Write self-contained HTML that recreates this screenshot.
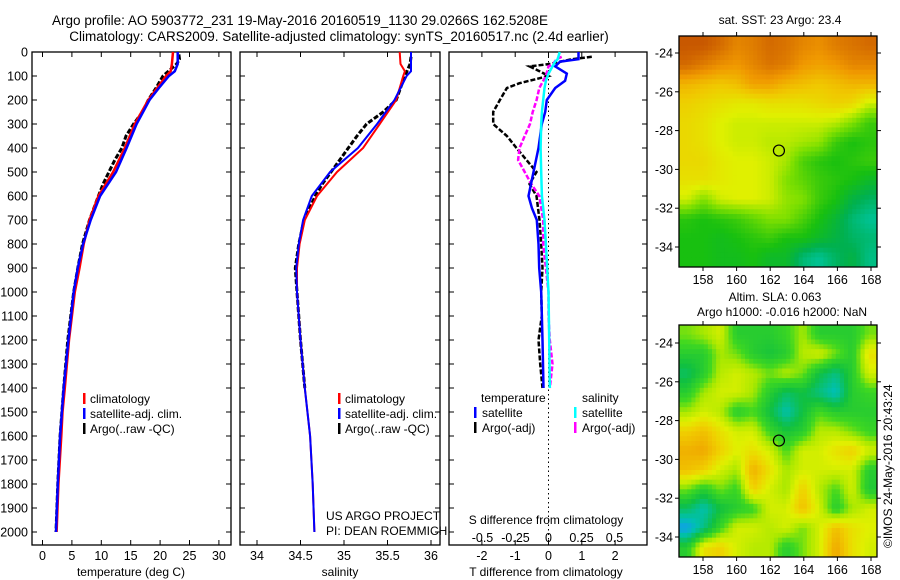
<!DOCTYPE html>
<html><head><meta charset="utf-8"><style>
html,body{margin:0;padding:0;background:#fff;}
svg{display:block;font-family:"Liberation Sans",sans-serif;}
</style></head><body>
<svg id="fig" width="900" height="580" viewBox="0 0 900 580">
<text x="300" y="25" font-size="13.5" text-anchor="middle">Argo profile: AO 5903772_231 19-May-2016 20160519_1130 29.0266S 162.5208E</text>
<text x="339" y="41" font-size="13.5" text-anchor="middle">Climatology: CARS2009. Satellite-adjusted climatology: synTS_20160517.nc (2.4d earlier)</text>
<g id="p1"></g>
<g id="p2"></g>
<g id="p3"></g>
<g id="m1"></g>
<g id="m2"></g>
<text x="780" y="24" font-size="12" text-anchor="middle">sat. SST: 23 Argo: 23.4</text>
<text x="775" y="301" font-size="12" text-anchor="middle">Altim. SLA: 0.063</text>
<text x="782" y="316" font-size="12" text-anchor="middle">Argo h1000: -0.016 h2000: NaN</text>
<text transform="translate(892,548) rotate(-90)" font-size="12">©IMOS 24-May-2016 20:43:24</text>
<text x="326" y="520" font-size="12">US ARGO PROJECT</text>
<text x="326" y="535" font-size="12">PI: DEAN ROEMMICH</text>
</svg>
<script>
// ---- data ----
const tempDepth = [0,50,80,100,150,200,300,400,500,600,700,800,900,1000,1200,1400,1500,1600,1800,2000];
const tempClim  = [22.2,22.0,21.8,21.0,19.5,18.0,15.7,14.0,12.0,9.5,8.0,7.0,6.3,5.5,4.5,3.8,3.4,3.2,2.7,2.4];
const tempSat   = [23.0,23.0,22.5,21.5,19.8,18.2,16.0,14.3,12.5,9.8,8.2,6.9,6.0,5.3,4.4,3.6,3.3,3.0,2.6,2.3];
const argoDepth = [10,30,50,100,150,200,250,300,350,400,450,500,550,600,700,800,900,1000,1200,1400,1600,1800,2000];
const argoTemp  = [23.2,23.3,22.8,20.5,19.3,18.0,17.0,15.5,14.2,13.5,12.3,11.3,10.3,9.5,8.0,6.8,6.0,5.3,4.3,3.6,3.0,2.6,2.3];
const salDepth  = [0,50,80,100,200,300,400,500,600,700,800,900,1000,1200,1400,1600,1800,2000];
const salClim   = [35.64,35.65,35.70,35.68,35.60,35.41,35.22,34.92,34.69,34.55,34.49,34.46,34.46,34.50,34.55,34.61,34.64,34.66];
const salSat    = [35.77,35.77,35.77,35.72,35.58,35.38,35.16,34.84,34.63,34.53,34.48,34.45,34.46,34.50,34.55,34.61,34.64,34.66];
const argoSalDepth = [20,50,100,150,200,250,300,350,400,450,500,550,600,700,800,900,1000,1200,1400];
const argoSal   = [35.77,35.76,35.70,35.65,35.60,35.45,35.26,35.15,35.05,34.95,34.85,34.75,34.67,34.54,34.48,34.44,34.46,34.50,34.55];
const diffDepth = [0,30,40,60,90,120,150,200,250,300,400,500,600,650,700,800,900,1000,1200,1400];
const dTsat     = [0.9,0.9,0.35,0.2,0.55,0.5,0.2,-0.05,-0.1,-0.2,-0.3,-0.45,-0.6,-0.5,-0.35,-0.3,-0.28,-0.22,-0.18,-0.15];
const dSsat     = [0.085,0.07,0.05,0.03,0.0,-0.02,-0.03,-0.04,-0.05,-0.055,-0.06,-0.055,-0.05,-0.04,-0.03,-0.02,-0.01,0.0,0.005,0.01];
const argoDiffDepth = [20,30,50,60,80,100,130,150,200,250,300,350,400,450,500,550,600,700,800,900,1000,1100,1200,1300,1400];
const dTargo    = [1.3,0.7,0.03,-0.57,-0.27,0.0,-0.87,-1.25,-1.46,-1.66,-1.66,-1.25,-0.96,-0.66,-0.36,-0.57,-0.36,-0.27,-0.22,-0.18,-0.22,-0.2,-0.3,-0.25,-0.18];
const dSargo    = [0.1,0.06,0.035,0.0,-0.01,-0.02,-0.05,-0.07,-0.09,-0.12,-0.14,-0.18,-0.22,-0.23,-0.18,-0.13,-0.07,-0.04,-0.04,-0.02,0.0,0.0,0.01,0.03,0.01];
const depthTicks = [0,100,200,300,400,500,600,700,800,900,1000,1100,1200,1300,1400,1500,1600,1700,1800,1900,2000];
const tempTicks = [0,5,10,15,20,25,30];
const salTicks = [34,34.5,35,35.5,36];
const salTickLabels = ["34","34.5","35","35.5","36"];
const dTTicks = [-2,-1,0,1,2];
const dSTicks = [-0.5,-0.25,0,0.25,0.5];
const dSTickLabels = ["-0.5","-0.25","0","0.25","0.5"];
const lonTicks = [158,160,162,164,166,168];
const latTicks = [-24,-26,-28,-30,-32,-34];
const sstGrid = [
[25,25,24.8,24.5,24.6,24.8,24.7,24.5,24.4,24.6,24.7,24.8],
[24.8,24.6,24.4,24.3,24.5,24.7,24.6,24.3,24.2,24.3,24.5,24.5],
[24.0,23.9,23.8,23.9,24.2,24.2,24.0,23.9,23.8,23.9,24.0,24.0],
[23.7,23.6,23.5,23.4,23.4,23.5,23.5,23.5,23.6,23.7,23.6,23.2],
[23.6,23.5,23.3,23.2,23.2,23.2,23.2,23.2,23.2,23.1,22.8,22.4],
[23.6,23.5,23.3,23.2,23.2,23.1,23.1,23.0,22.9,22.4,22.2,22.3],
[23.6,23.6,23.4,23.3,23.3,23.2,23.0,22.5,22.3,22.2,22.3,22.4],
[23.5,23.5,23.4,23.3,23.3,23.2,22.8,22.6,22.4,22.3,22.2,22.0],
[23.2,22.8,23.2,23.3,23.3,23.2,22.9,22.8,22.4,22.2,21.8,21.6],
[22.3,22.2,22.3,22.4,22.6,22.8,22.8,22.5,22.2,21.9,21.5,21.3],
[22.2,22.2,22.1,22.2,22.3,22.4,22.2,22.2,22.0,21.8,21.6,21.5],
[22.2,22.2,22.1,22.1,22.2,22.0,22.0,21.5,21.3,21.6,21.8,21.4]];
const slaGrid = [
[0.0,0.02,0.05,-0.05,-0.05,-0.05,-0.03,0.02,-0.05,-0.05,-0.05,0.0],
[-0.05,-0.05,0.02,0.0,-0.05,-0.07,-0.05,0.03,0.05,0.0,-0.05,0.08],
[-0.1,-0.05,0.03,0.05,0.03,0.0,0.03,0.0,-0.08,-0.12,-0.05,0.05],
[-0.05,0.02,0.05,0.05,0.02,-0.05,-0.1,-0.08,-0.12,-0.16,-0.05,-0.03],
[0.02,0.05,0.03,-0.05,-0.02,-0.08,-0.15,-0.08,-0.02,-0.05,-0.05,-0.05],
[0.1,0.12,0.08,0.05,0.05,-0.03,-0.07,-0.05,0.03,0.03,0.0,-0.03],
[0.14,0.15,0.1,0.06,0.08,0.05,-0.02,0.05,0.05,0.08,0.1,0.05],
[0.12,0.1,0.05,0.02,0.14,0.08,0.02,0.05,0.05,0.05,0.05,-0.05],
[0.0,-0.05,0.0,-0.03,0.1,0.05,0.02,0.1,0.03,-0.02,0.05,-0.06],
[-0.1,-0.15,-0.08,-0.05,-0.03,0.05,0.05,0.12,0.05,-0.05,0.02,0.05],
[-0.2,-0.12,-0.03,0.05,0.05,0.03,0.05,0.0,0.05,0.12,0.08,0.06],
[-0.05,0.08,0.1,0.05,0.03,0.03,-0.05,0.0,0.05,0.15,0.08,0.05]];
const argoLon = 162.52, argoLat = -29.03;

// ---- helpers ----
const NS="http://www.w3.org/2000/svg";
function mk(tag,attrs,parent){const e=document.createElementNS(NS,tag);for(const k in attrs)e.setAttribute(k,attrs[k]);parent.appendChild(e);return e;}
const yD = d => 52 + d*0.2400;
const xT = t => 42.5 + t*5.88;
const xS = s => 257 + (s-34)*87;
const xdT = v => 548.5 + v*33.3;
const xdS = v => 548.5 + v*132;
const PT=52, PB=545;

function frame(g,x0,x1,xt,xfun,labels,leftLabels){
  const r=mk('rect',{x:x0,y:PT,width:x1-x0,height:PB-PT,fill:'none',stroke:'#000','stroke-width':1.3},g);
  
  
  depthTicks.forEach(d=>{
    mk('line',{x1:x0,x2:x0+5,y1:yD(d),y2:yD(d),stroke:'#000'},g);
    mk('line',{x1:x1-5,x2:x1,y1:yD(d),y2:yD(d),stroke:'#000'},g);
    if(leftLabels){
      const t=mk('text',{x:x0-4,y:yD(d)+4.5,'font-size':12.5,'text-anchor':'end'},g);
      t.textContent=d;
      
      
    }
  });
  xt.forEach((v,i)=>{
    const x=xfun(v);
    mk('line',{x1:x,x2:x,y1:PT,y2:PT+5,stroke:'#000'},g);
    mk('line',{x1:x,x2:x,y1:PB-5,y2:PB,stroke:'#000'},g);
    if(labels){
      const t=mk('text',{x:x,y:560,'font-size':12.5,'text-anchor':'middle'},g);
      t.textContent=labels[i];
      
      
    }
  });
}
function line(g,depths,vals,xfun,color,w,dash,name){
  const pts=depths.map((d,i)=>xfun(vals[i]).toFixed(1)+','+yD(d).toFixed(1)).join(' ');
  const p=mk('polyline',{points:pts,fill:'none',stroke:color,'stroke-width':w},g);
  if(dash)p.setAttribute('stroke-dasharray',dash);
  
  
}
function txt(g,x,y,s,name,anchor){
  const t=mk('text',{x:x,y:y,'font-size':12,'text-anchor':anchor||'start'},g);
  t.textContent=s;
  
  
}
function legBar(g,x,y,c,name){
  const r=mk('rect',{x:x,y:y-10,width:2.5,height:11,fill:c},g);
  
  
}

// panel 1
const p1=document.getElementById('p1');
frame(p1,32,231,tempTicks,xT,tempTicks.map(String),true);
line(p1,argoDepth,argoTemp,xT,'#000',3,'5,2','argo-temperature-line');
line(p1,tempDepth,tempClim,xT,'#f00',2.5,null,'climatology-temperature-line');
line(p1,tempDepth,tempSat,xT,'#00f',2.5,null,'satellite-temperature-line');
txt(p1,131,576,'temperature (deg C)','x-axis-title','middle');
[['climatology','#f00'],['satellite-adj. clim.','#00f'],['Argo(..raw -QC)','#000']].forEach((e,i)=>{
  legBar(p1,83,403+i*15,e[1],'legend-swatch');
  txt(p1,90,403+i*15,e[0],'legend-entry');
});
// panel 2
const p2=document.getElementById('p2');
frame(p2,240,440,salTicks,xS,salTickLabels,false);
line(p2,argoSalDepth,argoSal,xS,'#000',3,'5,2','argo-salinity-line');
line(p2,salDepth,salClim,xS,'#f00',2,null,'climatology-salinity-line');
line(p2,salDepth,salSat,xS,'#00f',2,null,'satellite-salinity-line');
txt(p2,340,576,'salinity','x-axis-title','middle');
[['climatology','#f00'],['satellite-adj. clim.','#00f'],['Argo(..raw -QC)','#000']].forEach((e,i)=>{
  legBar(p2,338,403+i*15,e[1],'legend-swatch');
  txt(p2,345,403+i*15,e[0],'legend-entry');
});
// panel 3
const p3=document.getElementById('p3');
frame(p3,449,647,dTTicks,xdT,dTTicks.map(String),false);
dSTicks.forEach((v,i)=>{const t=mk('text',{x:xdS(v),y:542,'font-size':12.5,'text-anchor':'middle'},p3);t.textContent=dSTickLabels[i];});
const zl=mk('line',{x1:xdT(0),x2:xdT(0),y1:PT,y2:PB,stroke:'#000','stroke-dasharray':'1.5,3'},p3);


line(p3,argoDiffDepth,dTargo,xdT,'#000',2.5,'5,2','argo-t-diff-line');
line(p3,argoDiffDepth,dSargo,xdS,'#f0f',2.5,'5,2','argo-s-diff-line');
line(p3,diffDepth,dTsat,xdT,'#00f',2.5,null,'satellite-t-diff-line');
line(p3,diffDepth,dSsat,xdS,'#0ff',2.5,null,'satellite-s-diff-line');
txt(p3,546,524,'S difference from climatology','s-diff-axis-title','middle');
txt(p3,546,576,'T difference from climatology','t-diff-axis-title','middle');
txt(p3,481,402,'temperature','legend-header');
txt(p3,582,402,'salinity','legend-header');
legBar(p3,474,417,'#00f','legend-swatch');txt(p3,482,417,'satellite','legend-entry');
legBar(p3,474,432,'#000','legend-swatch');txt(p3,482,432,'Argo(-adj)','legend-entry');
legBar(p3,574,417,'#0ff','legend-swatch');txt(p3,582,417,'satellite','legend-entry');
legBar(p3,574,432,'#f0f','legend-swatch');txt(p3,582,432,'Argo(-adj)','legend-entry');

// maps
function hex(c){return [parseInt(c.slice(1,3),16),parseInt(c.slice(3,5),16),parseInt(c.slice(5,7),16)];}
function cmap(stops,v){
  if(v<=stops[0][0])return stops[0][1];
  for(let i=1;i<stops.length;i++){if(v<=stops[i][0]){const a=stops[i-1],b=stops[i];const f=(v-a[0])/(b[0]-a[0]);const A=hex(a[1]),B=hex(b[1]);return 'rgb('+A.map((x,k)=>Math.round(x+(B[k]-x)*f)).join(',')+')';}}
  return stops[stops.length-1][1];
}
function sample(grid,r,c){ // bilinear sample in grid coords (cell centers)
  const nr=grid.length,nc=grid[0].length;
  r=Math.max(0,Math.min(nr-1,r));c=Math.max(0,Math.min(nc-1,c));
  const r0=Math.floor(r),c0=Math.floor(c),r1=Math.min(nr-1,r0+1),c1=Math.min(nc-1,c0+1);
  const fr=r-r0,fc=c-c0;
  const a=grid[r0][c0]*(1-fc)+grid[r0][c1]*fc, b=grid[r1][c0]*(1-fc)+grid[r1][c1]*fc;
  return a*(1-fr)+b*fr;
}
const sstStops=[[21,'#00d0c8'],[21.7,'#00b050'],[22.2,'#18c010'],[22.8,'#80e000'],[23.3,'#e0f000'],[23.8,'#f0c800'],[24.3,'#f09800'],[25,'#c85800']];
const slaStops=[[-0.2,'#10a0e8'],[-0.15,'#00c0b0'],[-0.08,'#10c040'],[-0.02,'#40d820'],[0.02,'#a8e800'],[0.06,'#e0f000'],[0.1,'#f0d000'],[0.15,'#f0a800'],[0.2,'#e08000']];
function map(id,top,bot,latAt24,latAt34,grid,stops,name){
  const g=document.getElementById(id);
  const L=679,R=877;
  const lonX=lo=>703+(lo-158)*16.8;
  const latY=la=>latAt24+(-24-la)*(latAt34-latAt24)/10;
  const nr=grid.length,nc=grid[0].length;
  const sub=4, NR=nr*sub, NC=nc*sub;
  const w=(R-L)/NC, h=(bot-top)/NR;
  for(let i=0;i<NR;i++)for(let j=0;j<NC;j++){
    const v=sample(grid,(i+0.5)/sub-0.5,(j+0.5)/sub-0.5);
    const cell=mk('rect',{x:(L+j*w).toFixed(2),y:(top+i*h).toFixed(2),width:(w+0.5).toFixed(2),height:(h+0.5).toFixed(2),fill:cmap(stops,v)},g);
    
    
  }
  const fr=mk('rect',{x:L,y:top,width:R-L,height:bot-top,fill:'none',stroke:'#000','stroke-width':1.3},g);
  
  
  lonTicks.forEach(lo=>{const x=lonX(lo);mk('line',{x1:x,x2:x,y1:top-4,y2:top,stroke:'#000'},g);mk('line',{x1:x,x2:x,y1:bot,y2:bot+4,stroke:'#000'},g);
    const t=mk('text',{x:x,y:bot+17,'font-size':12.5,'text-anchor':'middle'},g);t.textContent=lo;});
  latTicks.forEach(la=>{const y=latY(la);mk('line',{x1:L-4,x2:L,y1:y,y2:y,stroke:'#000'},g);mk('line',{x1:R,x2:R+4,y1:y,y2:y,stroke:'#000'},g);
    const t=mk('text',{x:L-6,y:y+4.5,'font-size':12.5,'text-anchor':'end'},g);t.textContent=la;});
  const c=mk('circle',{cx:lonX(argoLon),cy:latY(argoLat),r:5.5,fill:'none',stroke:'#000','stroke-width':1.2},g);
  
  
}
map('m1',36,267,53,247,sstGrid,sstStops,'sst');
map('m2',325,557,343,537,slaGrid,slaStops,'sla');
</script>
</body></html>
